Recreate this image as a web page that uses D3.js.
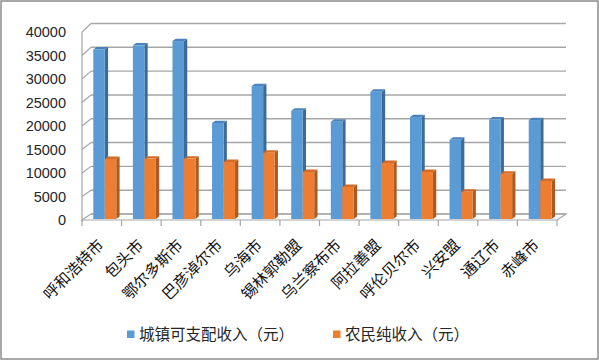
<!DOCTYPE html>
<html><head><meta charset="utf-8">
<script src="https://cdn.jsdelivr.net/npm/d3@7"></script>
<style>body{margin:0;background:#fff} svg{display:block}</style>
</head><body><svg id="c" width="599" height="360"></svg>
<script>
const categories = ["呼和浩特市","包头市","鄂尔多斯市","巴彦淖尔市","乌海市","锡林郭勒盟","乌兰察布市","阿拉善盟","呼伦贝尔市","兴安盟","通辽市","赤峰市"];
const urbanIncome = [35630, 36480, 37380, 20160, 27930, 22740, 20430, 26730, 21420, 16650, 20940, 20790];
const ruralIncome = [12600, 12700, 12700, 11970, 13920, 9870, 6720, 11760, 9870, 5730, 9510, 7980];
const yTicks = [0, 5000, 10000, 15000, 20000, 25000, 30000, 35000, 40000];
const seriesNames = ["城镇可支配收入（元）", "农民纯收入（元）"];

const svg = d3.select("#c");
const W = 599, H = 360;
const DX = 9, DY = -6;          // floor depth
const BDX = 3.3, BDY = -2.4;    // bar depth
const x0 = 82, x1 = 557;

const x = d3.scaleBand().domain(categories).range([x0, x1]);
const yFront = d3.scaleLinear().domain([0, 40000]).range([220, 32]);
const yBack = d3.scaleLinear().domain([0, 40000]).range([214, 23.5]);
const yBar = d3.scaleLinear().domain([0, 40000]).range([219, 28.6]);

const grid = "#a6a6a6";

// outer border
svg.append("rect").attr("x", 1).attr("y", 1).attr("width", W - 2).attr("height", H - 2)
  .attr("fill", "#fff").attr("stroke", "#8c8c8c").attr("stroke-width", 1.5);

// back wall gridlines + side diagonals
const g = svg.append("g");
g.selectAll("line.grid").data(yTicks).join("line").attr("class", "grid")
  .attr("x1", x0 + DX).attr("x2", x1 + DX)
  .attr("y1", d => yBack(d)).attr("y2", d => yBack(d))
  .attr("stroke", grid).attr("stroke-width", 1.4);
g.selectAll("line.diag").data(yTicks).join("line").attr("class", "diag")
  .attr("x1", x0).attr("y1", d => yFront(d))
  .attr("x2", x0 + DX).attr("y2", d => yBack(d))
  .attr("stroke", grid).attr("stroke-width", 1.2);
// left axis
g.append("line").attr("x1", x0).attr("x2", x0)
  .attr("y1", yFront(0) + 2).attr("y2", yFront(40000))
  .attr("stroke", grid).attr("stroke-width", 1.2);
// floor
g.append("path")
  .attr("d", `M${x0},${yFront(0)}L${x1},${yFront(0)}L${x1 + DX},${yBack(0)}L${x0 + DX},${yBack(0)}`)
  .attr("fill", "none").attr("stroke", grid).attr("stroke-width", 1.2);
// bottom ticks
const bw = x.bandwidth();
g.selectAll("line.tick").data(d3.range(categories.length + 1)).join("line").attr("class", "tick")
  .attr("x1", i => x0 + i * bw).attr("x2", i => x0 + i * bw)
  .attr("y1", yFront(0)).attr("y2", yFront(0) + 6)
  .attr("stroke", grid).attr("stroke-width", 1.2);

// y labels
svg.selectAll("text.ylab").data(yTicks).join("text").attr("class", "ylab")
  .attr("x", 66).attr("y", d => yFront(d)).attr("dy", "0.35em")
  .attr("text-anchor", "end")
  .attr("font-family", "Liberation Sans, Arial, sans-serif").attr("font-size", 14.5)
  .attr("fill", "#262626").text(d => d);

// bars
const colors = [
  {front: "#5b9bd5", side: "#3c6b99", top: "#4b82b9"},
  {front: "#ed7d31", side: "#ad5920", top: "#d46b26"}
];
const barW = 11.5, off = 11.3;
const series = [urbanIncome, ruralIncome];
const bars = svg.append("g");
categories.forEach((c, i) => {
  series.forEach((vals, s) => {
    const v = vals[i];
    const L = x(c) + off + s * barW, R = L + barW;
    const T = yBar(v), B = yBar(0);
    const col = colors[s];
    bars.append("path")
      .attr("d", `M${R},${T}L${R + BDX},${T + BDY}L${R + BDX},${B + BDY}L${R},${B}Z`)
      .attr("fill", col.side);
    bars.append("path")
      .attr("d", `M${L},${T}L${L + BDX},${T + BDY}L${R + BDX},${T + BDY}L${R},${T}Z`)
      .attr("fill", col.top);
    bars.append("rect").attr("x", L).attr("y", T).attr("width", barW).attr("height", B - T)
      .attr("fill", col.front);
  });
});

// category labels
svg.selectAll("text.xlab").data(categories).join("text").attr("class", "xlab")
  .attr("transform", d => `translate(${x(d) + bw / 2 + 3},${246}) rotate(-45)`)
  .attr("text-anchor", "end")
  .attr("font-family", "Noto Sans CJK SC, sans-serif").attr("font-size", 15.5)
  .attr("fill", "#111").text(d => d);

// legend
const legX = [127, 333];
seriesNames.forEach((name, s) => {
  svg.append("rect").attr("x", legX[s]).attr("y", 330.5).attr("width", 7.5).attr("height", 7.5)
    .attr("fill", colors[s].front);
  svg.append("text").attr("x", legX[s] + 12).attr("y", 334.5).attr("dy", "0.35em")
    .attr("font-family", "Noto Sans CJK SC, sans-serif").attr("font-size", 15.5)
    .attr("fill", "#262626").text(name);
});
</script></body></html>
